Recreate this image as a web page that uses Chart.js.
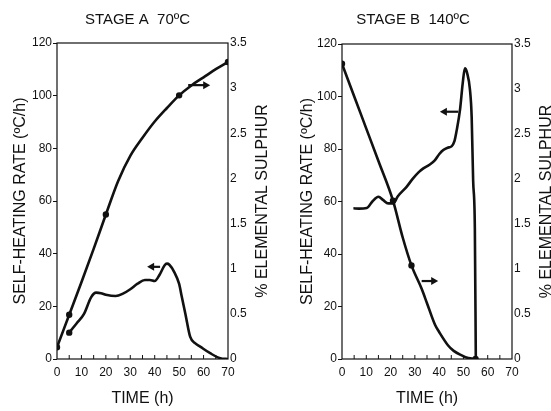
<!DOCTYPE html>
<html lang="en">
<head>
  <meta charset="UTF-8" />
  <title>Self-heating stages</title>
  <script src="https://cdn.jsdelivr.net/npm/chart.js"></script>
  <style>
    body {
      margin: 0;
      background: #ffffff;
    }
    .panel {
      position: absolute;
      top: 0;
      height: 411px;
    }
    #panelA { left: 0; width: 275px; }
    #panelB { left: 275px; width: 276px; }
  </style>
</head>
<body>
  <div class="panel" id="panelA"><canvas id="chartA"></canvas></div>
  <div class="panel" id="panelB"><canvas id="chartB"></canvas></div>

  <script>
    // Stage A (70 C)
    const timeSulphurA = [0, 5, 10, 15, 20, 25, 30, 35, 40, 45, 50, 55, 60, 65, 70];
    const sulphurA = [0.13, 0.49, 0.85, 1.22, 1.6, 1.97, 2.25, 2.45, 2.63, 2.78, 2.92, 3.03, 3.12, 3.21, 3.29];
    const dotsSulphurA = [0, 5, 20, 50, 70];

    const timeHeatA = [5, 8, 11, 14, 16, 18, 20, 24, 27, 30, 33, 36, 38, 40, 42, 44, 45, 46, 48, 50, 51, 52.5, 54.5, 56.5, 58.6, 62.7, 66.8, 70];
    const heatA = [10, 13.5, 17, 23.5, 25.2, 25, 24.4, 23.9, 24.8, 26.5, 28.6, 30, 30, 29.6, 32, 35.5, 36.2, 35.8, 33, 28.5, 24, 17.4, 8.5, 6, 4.7, 2.2, 0.3, 0];
    const dotsHeatA = [5];

    // Stage B (140 C)
    const timeSulphurB = [0, 5, 10, 15, 21, 25, 28.6, 32.8, 35, 38.3, 40, 43.7, 46, 49.3, 52, 55];
    const sulphurB = [3.28, 2.92, 2.56, 2.2, 1.76, 1.35, 1.04, 0.78, 0.62, 0.38, 0.3, 0.15, 0.09, 0.04, 0.01, 0];
    const dotsSulphurB = [0, 21, 28.6, 55];

    const timeHeatB = [4.7, 7, 10.2, 12.5, 15, 17, 19, 21.1, 23, 26.6, 29, 31.4, 33.5, 36, 38.3, 40, 41.7, 43.5, 45.1, 46.3, 47.2, 48.6, 49.7, 50.6, 51.5, 52.7, 53.4, 54, 54.7, 55.1];
    const heatB = [57.4, 57.3, 57.5, 60, 61.8, 60.5, 59.3, 59.3, 62, 65.6, 68.5, 71, 72.6, 74, 75.8, 78, 79.6, 80.5, 81, 83, 87, 95, 105, 110.7, 109, 102.5, 92, 68, 50, 0];
    const dotsHeatB = [];

    // axis ticks
    const timeTicks = [0, 10, 20, 30, 40, 50, 60, 70];
    const rateTicks = [0, 20, 40, 60, 80, 100, 120];
    const sulphurTicks = [0, 0.5, 1, 1.5, 2, 2.5, 3, 3.5];

    const FONT = "'Liberation Sans', Arial, sans-serif";
    const INK = "#111";

    function points(xs, ys) {
      return xs.map((x, i) => ({ x: x, y: ys[i] }));
    }

    function dotRadius(xs, dots) {
      return xs.map(x => dots.includes(x) ? 1.9 : 0);
    }

    // frame, inward minor ticks on time axis, arrows and the right axis title
    const decor = {
      id: "decor",
      afterDraw(chart, args, opts) {
        const ctx = chart.ctx;
        const a = chart.chartArea;
        const x = chart.scales.x;
        const y = chart.scales.y;
        ctx.save();
        ctx.strokeStyle = INK;
        ctx.lineWidth = 1.2;
        ctx.strokeRect(a.left, a.top, a.right - a.left, a.bottom - a.top);

        // small inward ticks every 5 h
        ctx.lineWidth = 1;
        for (let t = 5; t < 70; t += 5) {
          const px = x.getPixelForValue(t);
          ctx.beginPath();
          ctx.moveTo(px, a.bottom);
          ctx.lineTo(px, a.bottom - 4);
          ctx.stroke();
        }

        // arrows telling which axis a curve belongs to
        ctx.fillStyle = INK;
        ctx.lineWidth = 2.2;
        opts.arrows.forEach(ar => {
          const x1 = x.getPixelForValue(ar.from);
          const x2 = x.getPixelForValue(ar.to);
          const py = y.getPixelForValue(ar.y);
          const dir = x2 > x1 ? 1 : -1;
          ctx.beginPath();
          ctx.moveTo(x1, py);
          ctx.lineTo(x2 - dir * 5, py);
          ctx.stroke();
          ctx.beginPath();
          ctx.moveTo(x2, py);
          ctx.lineTo(x2 - dir * 7, py - 4);
          ctx.lineTo(x2 - dir * 7, py + 4);
          ctx.closePath();
          ctx.fill();
        });

        // right axis title reads bottom to top
        ctx.font = "16px " + FONT;
        ctx.textAlign = "center";
        ctx.textBaseline = "middle";
        ctx.translate(a.right + opts.rightTitleGap, (a.top + a.bottom) / 2);
        ctx.rotate(-Math.PI / 2);
        ctx.fillText("% ELEMENTAL SULPHUR", 0, 0);
        ctx.restore();
      }
    };

    function makeChart(id, cfg) {
      return new Chart(document.getElementById(id), {
        type: "line",
        data: {
          datasets: [
            {
              label: "Self-heating rate",
              data: points(cfg.heatT, cfg.heat),
              yAxisID: "y",
              borderColor: INK,
              backgroundColor: INK,
              borderWidth: 2.6,
              pointRadius: dotRadius(cfg.heatT, cfg.heatDots),
              cubicInterpolationMode: "monotone"
            },
            {
              label: "% elemental sulphur",
              data: points(cfg.sulT, cfg.sul),
              yAxisID: "y2",
              borderColor: INK,
              backgroundColor: INK,
              borderWidth: 2.6,
              pointRadius: dotRadius(cfg.sulT, cfg.sulDots),
              cubicInterpolationMode: "monotone"
            }
          ]
        },
        options: {
          responsive: true,
          maintainAspectRatio: false,
          animation: false,
          layout: { padding: 0 },
          plugins: {
            legend: { display: false },
            tooltip: { enabled: false },
            title: {
              display: true,
              text: cfg.title,
              color: INK,
              font: { family: FONT, size: 15, weight: "normal" },
              padding: { top: 11, bottom: cfg.titleGap }
            },
            decor: { arrows: cfg.arrows, rightTitleGap: 35 }
          },
          scales: {
            x: {
              type: "linear",
              min: 0,
              max: 70,
              afterBuildTicks: s => { s.ticks = timeTicks.map(v => ({ value: v })); },
              afterFit: s => { s.height = 52; },
              ticks: { color: INK, font: { family: FONT, size: 12 }, padding: 6, maxRotation: 0 },
              grid: { drawOnChartArea: false, drawTicks: false },
              border: { display: false },
              title: {
                display: true,
                text: "TIME (h)",
                color: INK,
                font: { family: FONT, size: 16 },
                padding: { top: 0, bottom: 3 }
              }
            },
            y: {
              position: "left",
              min: 0,
              max: 120,
              afterBuildTicks: s => { s.ticks = rateTicks.map(v => ({ value: v })); },
              afterFit: s => { s.width = cfg.leftW; },
              ticks: { color: INK, font: { family: FONT, size: 12 }, padding: 1 },
              grid: { drawOnChartArea: false, tickLength: 4, color: INK },
              border: { display: false },
              title: {
                display: true,
                text: "SELF-HEATING RATE (ºC/h)",
                color: INK,
                font: { family: FONT, size: 16 },
                padding: { top: cfg.leftTitlePad, bottom: 0 }
              }
            },
            y2: {
              position: "right",
              min: 0,
              max: 3.5,
              afterBuildTicks: s => { s.ticks = sulphurTicks.map(v => ({ value: v })); },
              afterFit: s => { s.width = cfg.rightW; },
              ticks: {
                color: INK,
                font: { family: FONT, size: 12 },
                padding: 2,
                callback: v => String(v)
              },
              grid: { drawOnChartArea: false, drawTicks: false },
              border: { display: false }
            }
          }
        },
        plugins: [decor]
      });
    }

    makeChart("chartA", {
      title: "STAGE A  70ºC",
      titleGap: 14,
      leftW: 57,
      rightW: 47,
      leftTitlePad: 11,
      heatT: timeHeatA, heat: heatA, heatDots: dotsHeatA,
      sulT: timeSulphurA, sul: sulphurA, sulDots: dotsSulphurA,
      arrows: [
        { from: 53.7, to: 62.7, y: 104 },
        { from: 42.2, to: 36.9, y: 35 }
      ]
    });

    makeChart("chartB", {
      title: "STAGE B  140ºC",
      titleGap: 15,
      leftW: 67,
      rightW: 39,
      leftTitlePad: 23,
      heatT: timeHeatB, heat: heatB, heatDots: dotsHeatB,
      sulT: timeSulphurB, sul: sulphurB, sulDots: dotsSulphurB,
      arrows: [
        { from: 47.9, to: 40.3, y: 94.2 },
        { from: 32.8, to: 39.6, y: 29.7 }
      ]
    });
  </script>
</body>
</html>
